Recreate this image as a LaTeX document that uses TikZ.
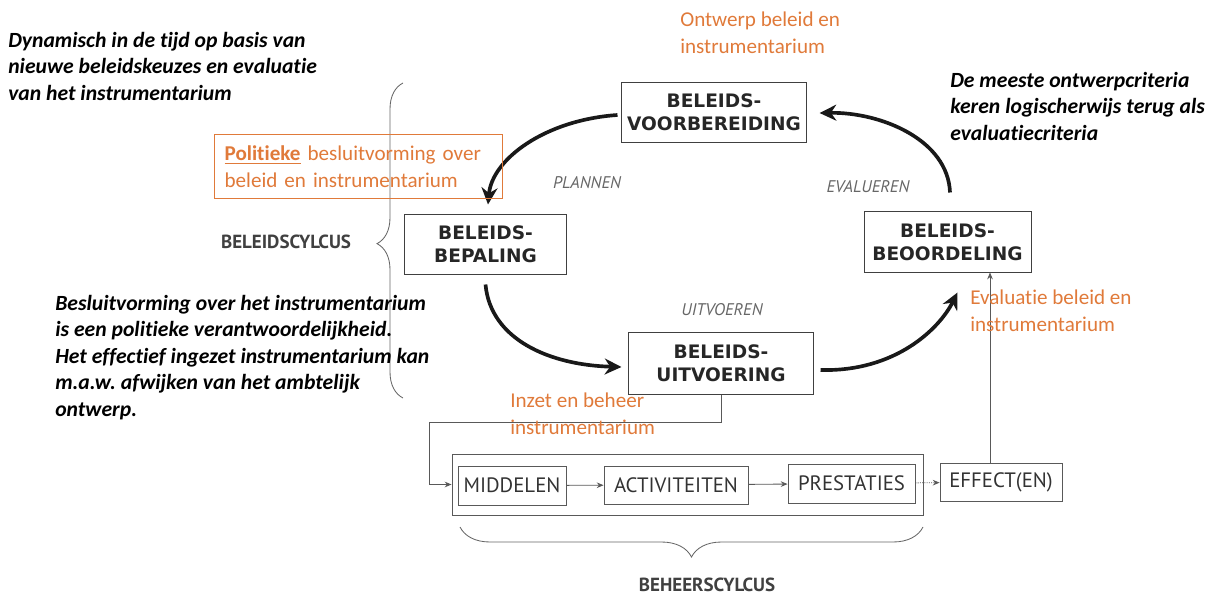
\documentclass[tikz,border=0pt]{standalone}
\usepackage{fontspec}
\setmainfont{Carlito}[RawFeature={-liga;-clig;-calt}]
\newfontfamily\boxfont{DejaVu Sans}
\newfontfamily\scanfont{PT Sans}
\usetikzlibrary{arrows.meta, decorations.pathreplacing, calc}
\frenchspacing

\definecolor{oranje}{RGB}{224,122,58}

\tikzstyle{fase} = [rectangle, draw=black!75, line width=0.7pt, align=center, inner sep=0pt, text=black!85, font=\boxfont\bfseries\fontsize{13.2}{16.5}\selectfont]
\tikzstyle{stap} = [rectangle, draw=black!65, line width=0.6pt, inner sep=0pt, text=black!80, font=\scanfont\fontsize{14.8}{16}\selectfont]
\tikzstyle{noot} = [anchor=north west, align=left, inner sep=0pt, font=\bfseries\itshape\fontsize{15.4}{18.8}\selectfont]
\tikzstyle{oranjenoot} = [anchor=north west, align=left, inner sep=0pt, text=oranje, font=\fontsize{15}{18.8}\selectfont]
\tikzstyle{fasewoord} = [text=black!60, font=\scanfont\itshape\fontsize{12}{13}\selectfont]
\tikzstyle{cyclusnaam} = [text=black!75, font=\scanfont\bfseries\fontsize{13.5}{15}\selectfont]
\tikzstyle{bigarrow} = [line width=2.6pt, black!90, -{Stealth[length=0.42cm, width=0.4cm]}]
\tikzstyle{smallarrow} = [line width=0.6pt, black!65, -{Stealth[length=0.17cm, width=0.14cm]}]
\tikzstyle{accolade} = [decorate, black!60, line width=0.6pt]

\begin{document}
\begin{tikzpicture}[x=0.025cm, y=-0.025cm]

\useasboundingbox (0,0) rectangle (1221,602);

% beleidscyclus

\node[fase, minimum width=4.6cm, minimum height=1.475cm] (voorb) at (714,112.5) {BELEIDS-\\VOORBEREIDING};
\node[fase, minimum width=4.025cm, minimum height=1.475cm] (bepaling) at (485.5,244.5) {BELEIDS-\\BEPALING};
\node[fase, minimum width=4.175cm, minimum height=1.5cm] (beoordeling) at (947.5,242) {BELEIDS-\\BEOORDELING};
\node[fase, minimum width=4.6cm, minimum height=1.525cm] (uitvoering) at (721,363.5) {BELEIDS-\\UITVOERING};

\node[fasewoord] (plannen) at (587,183) {PLANNEN};
\node[fasewoord] (evalueren) at (868,187) {EVALUEREN};
\node[fasewoord] (uitvoeren) at (722,310) {UITVOEREN};

\draw [bigarrow] ($(voorb.west)+(-4,2.5)$) .. controls +(-73,5) and +(4,-45) .. ($(bepaling.north)+(2.5,-10)$);
\draw [bigarrow] ($(bepaling.south)+(0,10)$) .. controls +(5,55) and +(-72,-2) .. ($(uitvoering.west)+(-7,3.5)$);
\draw [bigarrow] ($(uitvoering.east)+(7,6.5)$) .. controls +(75,2) and +(-18,36) .. ($(beoordeling.south)+(10,20)$);
\draw [bigarrow] ($(beoordeling.north)+(2.5,-19)$) .. controls +(-2,-53) and +(61,-1) .. ($(voorb.east)+(13,0.5)$);

\coordinate (beleid_top) at (403,83);
\coordinate (beleid_bot) at (403,398);
\draw [accolade, decoration={brace, amplitude=0.65cm, aspect=0.49}] (beleid_bot) -- (beleid_top);
\node[cyclusnaam] (beleidscyclus) at (286,242) {BELEIDSCYLCUS};

% beheerscyclus

\node[rectangle, draw=black!65, line width=0.6pt, minimum width=11.775cm, minimum height=1.525cm] (kader) at (687.5,484.5) {};
\node[stap, minimum width=2.7cm, minimum height=0.975cm] (middelen) at (512,485.5) {MIDDELEN};
\node[stap, minimum width=3.6cm, minimum height=0.95cm] (activiteiten) at (676,485) {ACTIVITEITEN};
\node[stap, minimum width=3.175cm, minimum height=0.975cm] (prestaties) at (851.5,483.5) {PRESTATIES};
\node[stap, minimum width=3.05cm, minimum height=0.95cm] (effecten) at (1001,482) {EFFECT(EN)};

\draw [smallarrow] (middelen) -- (activiteiten);
\draw [smallarrow] (activiteiten) -- (prestaties);
\draw [smallarrow, densely dotted] (prestaties) -- (effecten);

\coordinate (inzet_hoek) at (429,422);
\draw [smallarrow] (uitvoering.south) |- (inzet_hoek) |- (kader.west);

\coordinate (effect_op) at ($(effecten.north)+(-11,0)$);
\draw [smallarrow] (effect_op) -- (effect_op |- beoordeling.south);

\coordinate (beheer_r) at (923,527);
\coordinate (beheer_l) at (460,527);
\draw [accolade, decoration={brace, amplitude=0.75cm}] (beheer_r) -- (beheer_l);
\node[cyclusnaam] (beheerscyclus) at (707,585) {BEHEERSCYLCUS};

% toelichting

\node[noot] (dynamisch) at (8,32) {Dynamisch in de tijd op basis van\\nieuwe beleidskeuzes en evaluatie\\van het instrumentarium};
\node[oranjenoot] (ontwerp) at (680,12) {Ontwerp beleid en\\instrumentarium};
\node[noot] (criteria) at (950,72) {De meeste ontwerpcriteria\\keren logischerwijs terug als\\evaluatiecriteria};
\node[oranjenoot, draw=oranje, line width=0.9pt, text width=6.7cm, inner xsep=0.25cm, minimum height=1.6cm] (politiek) at (214,134) {\textbf{\underline{Politieke}} besluitvorming over\\beleid en instrumentarium};
\node[noot] (besluit) at (55,295) {Besluitvorming over het instrumentarium\\is een politieke verantwoordelijkheid.\\Het effectief ingezet instrumentarium kan\\m.a.w. afwijken van het ambtelijk\\ontwerp.};
\node[oranjenoot] (evaluatie) at (970,290) {Evaluatie beleid en\\instrumentarium};
\node[oranjenoot] (inzet) at (510,393) {Inzet en beheer\\instrumentarium};

\end{tikzpicture}
\end{document}
